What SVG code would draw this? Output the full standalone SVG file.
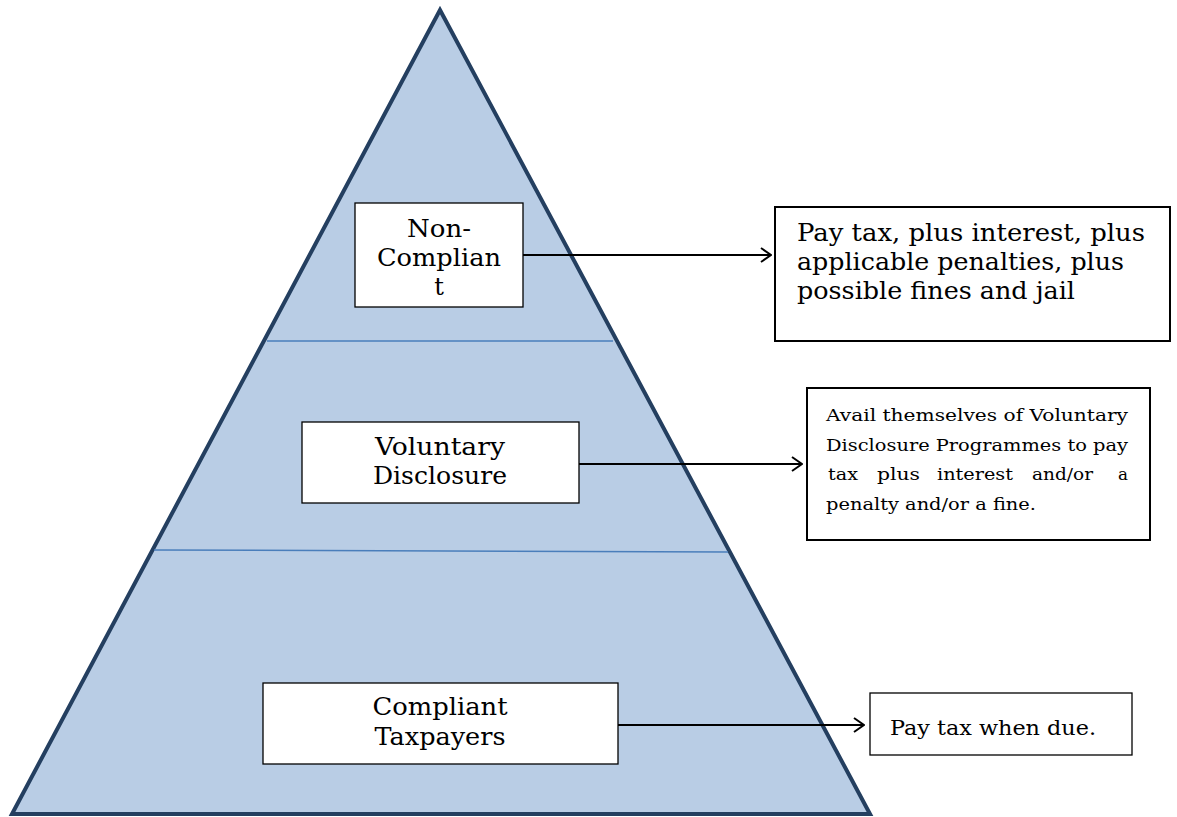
<svg xmlns="http://www.w3.org/2000/svg" width="1177" height="817" viewBox="0 0 1177 817">
<defs>
<style>
.t{font-family:"DejaVu Serif","Liberation Serif",serif;fill:#000}
.box{fill:#fff;stroke:#000;stroke-width:1.3}
.rbox{fill:#fff;stroke:#000;stroke-width:2}
.conn{stroke:#000;stroke-width:2;fill:none}
.tier{stroke:#4a7ebb;stroke-width:1.5;fill:none}
</style>
<marker id="arr" viewBox="0 0 12 16" refX="11" refY="8" markerWidth="12" markerHeight="16" markerUnits="userSpaceOnUse" orient="auto">
<path d="M1,1 L11,8 L1,15" fill="none" stroke="#000" stroke-width="2"/>
</marker>
</defs>
<g id="pyramid">
<polygon points="440,10 870,814 12,814" fill="#b9cde5" stroke="#243f60" stroke-width="4" stroke-linejoin="miter"/>
<line class="tier" x1="267" y1="341" x2="613" y2="341"/>
<line class="tier" x1="154" y1="550" x2="728" y2="552"/>
</g>
<g id="connectors">
<line class="conn" x1="523" y1="255" x2="771" y2="255" marker-end="url(#arr)"/>
<line class="conn" x1="579" y1="464" x2="802" y2="464" marker-end="url(#arr)"/>
<line class="conn" x1="618" y1="725" x2="864" y2="725" marker-end="url(#arr)"/>
</g>
<g id="non-compliant">
<rect class="box" x="355" y="203" width="168" height="104"/>
<text class="t" font-size="24" text-anchor="middle"><tspan x="439" y="237" textLength="64" lengthAdjust="spacingAndGlyphs">Non-</tspan><tspan x="439" y="266" textLength="124" lengthAdjust="spacingAndGlyphs">Complian</tspan><tspan x="439" y="295">t</tspan></text>
</g>
<g id="voluntary-disclosure">
<rect class="box" x="302" y="422" width="277" height="81"/>
<text class="t" font-size="24" text-anchor="middle"><tspan x="440" y="455" textLength="130" lengthAdjust="spacingAndGlyphs">Voluntary</tspan><tspan x="440" y="484" textLength="134" lengthAdjust="spacingAndGlyphs">Disclosure</tspan></text>
</g>
<g id="compliant-taxpayers">
<rect class="box" x="263" y="683" width="355" height="81"/>
<text class="t" font-size="24" text-anchor="middle"><tspan x="440" y="715" textLength="135" lengthAdjust="spacingAndGlyphs">Compliant</tspan><tspan x="440" y="745" textLength="131" lengthAdjust="spacingAndGlyphs">Taxpayers</tspan></text>
</g>
<g id="outcome-non-compliant">
<rect class="rbox" x="775" y="207" width="395" height="134"/>
<text class="t" font-size="25"><tspan x="797" y="241" textLength="348" lengthAdjust="spacingAndGlyphs">Pay tax, plus interest, plus</tspan><tspan x="797" y="270" textLength="327" lengthAdjust="spacingAndGlyphs">applicable penalties, plus</tspan><tspan x="797" y="299" textLength="278" lengthAdjust="spacingAndGlyphs">possible fines and jail</tspan></text>
</g>
<g id="outcome-voluntary">
<rect class="rbox" x="807" y="388" width="343" height="152"/>
<text class="t" font-size="17"><tspan x="826" y="421" textLength="302" lengthAdjust="spacingAndGlyphs">Avail themselves of Voluntary</tspan><tspan x="826" y="451" textLength="302" lengthAdjust="spacingAndGlyphs">Disclosure Programmes to pay</tspan><tspan x="828" y="480" textLength="30" lengthAdjust="spacingAndGlyphs">tax</tspan><tspan x="877" y="480" textLength="43" lengthAdjust="spacingAndGlyphs">plus</tspan><tspan x="937" y="480" textLength="76" lengthAdjust="spacingAndGlyphs">interest</tspan><tspan x="1032" y="480" textLength="61" lengthAdjust="spacingAndGlyphs">and/or</tspan><tspan x="1118" y="480" textLength="10" lengthAdjust="spacingAndGlyphs">a</tspan><tspan x="826" y="510" textLength="210" lengthAdjust="spacingAndGlyphs">penalty and/or a fine.</tspan></text>
</g>
<g id="outcome-compliant">
<rect class="box" x="870" y="693" width="262" height="62"/>
<text class="t" font-size="21" x="890" y="735" textLength="206" lengthAdjust="spacingAndGlyphs">Pay tax when due.</text>
</g>
</svg>
